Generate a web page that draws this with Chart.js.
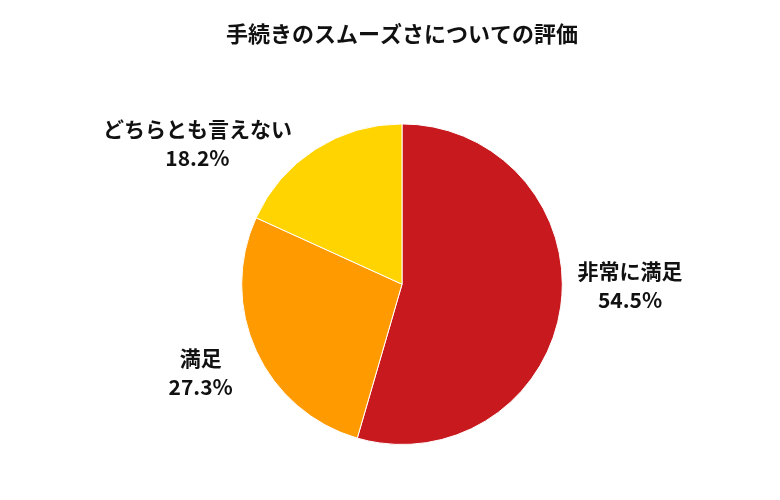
<!DOCTYPE html>
<html><head><meta charset="utf-8">
<script src="https://cdn.jsdelivr.net/npm/chart.js@4"></script>
<style>body{margin:0;background:#fff}#wrap{width:780px;height:500px}</style>
</head><body><div id="wrap"><canvas id="c"></canvas></div>
<script>
const categories = ['非常に満足', '満足', 'どちらとも言えない'];
const values = [54.5, 27.3, 18.2];
const colors = ['#C8191E', '#FF9A00', '#FFD400'];
// label nudges relative to the radial point
const labelNudge = [[0, -32], [8, -8], [-80, 52]];

const FONT = '"Noto Sans CJK JP", "Noto Sans", sans-serif';

const outsideLabels = {
    id: 'outsideLabels',
    afterDatasetsDraw(chart) {
        const ctx = chart.ctx;
        const meta = chart.getDatasetMeta(0);
        meta.data.forEach((arc, i) => {
            const mid = (arc.startAngle + arc.endAngle) / 2;
            const r = arc.outerRadius + 70;
            const x = arc.x + Math.cos(mid) * r + labelNudge[i][0];
            const y = arc.y + Math.sin(mid) * r + labelNudge[i][1];
            ctx.save();
            ctx.fillStyle = '#111';
            ctx.font = 'bold 21px ' + FONT;
            ctx.textAlign = 'center';
            ctx.textBaseline = 'middle';
            ctx.fillText(categories[i], x, y - 14);
            ctx.fillText(values[i].toFixed(1) + '%', x, y + 15);
            ctx.restore();
        });
    }
};

new Chart(document.getElementById('c'), {
    type: 'pie',
    data: {
        labels: categories,
        datasets: [{
            data: values,
            backgroundColor: colors,
            borderColor: '#fff',
            borderWidth: 1
        }]
    },
    options: {
        responsive: true,
        maintainAspectRatio: false,
        animation: false,
        layout: { padding: { top: 0, bottom: 55, left: 24, right: 0 } },
        plugins: {
            legend: { display: false },
            tooltip: { enabled: false },
            title: {
                display: true,
                text: '手続きのスムーズさについての評価',
                color: '#111',
                font: { family: FONT, size: 22, weight: 'bold' },
                padding: { top: 20, bottom: 77 }
            }
        }
    },
    plugins: [outsideLabels]
});
</script></body></html>
